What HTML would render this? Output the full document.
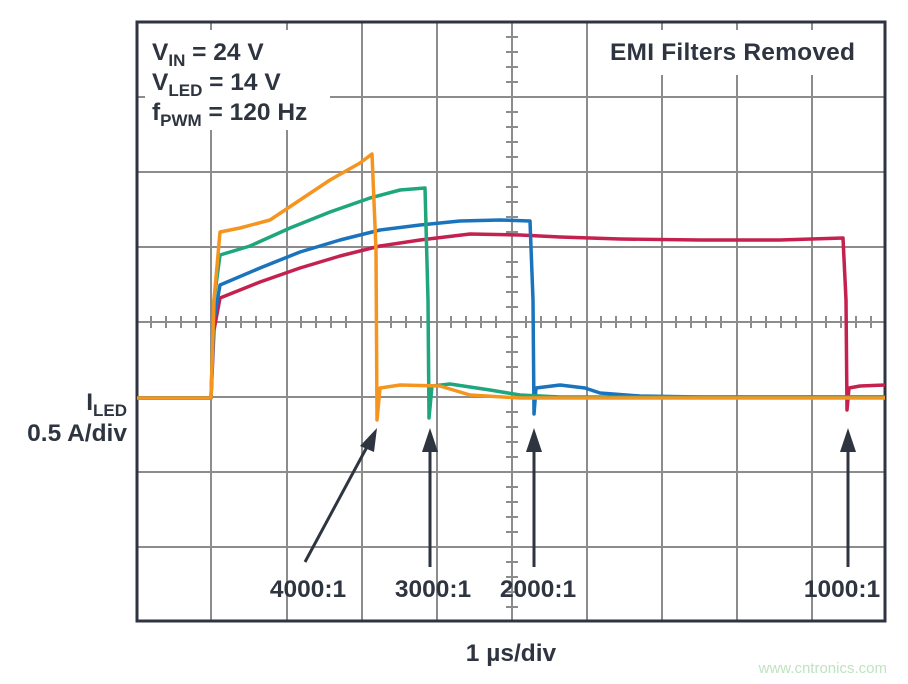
<!DOCTYPE html>
<html><head><meta charset="utf-8"><style>
body{margin:0;background:#fff;}
svg{display:block;font-family:"Liberation Sans",sans-serif;font-weight:bold;}
</style></head><body>
<svg width="908" height="684" viewBox="0 0 908 684" xmlns="http://www.w3.org/2000/svg">
<rect width="908" height="684" fill="#fff"/>
<g stroke="#8c8c8c" stroke-width="2" fill="none">
<path d="M211 22V622M287 22V622M362 22V622M437 22V622M587 22V622M662 22V622M737 22V622M812 22V622"/>
<path d="M136 97H886M136 172H886M136 247H886M136 397H886M136 472H886M136 547H886"/>
<path d="M512 22V622M136 322H886"/>
</g>
<g stroke="#8c8c8c" stroke-width="2">
<path d="M151 316v12M166 316v12M181 316v12M196 316v12M226 316v12M241 316v12M256 316v12M271 316v12M301 316v12M316 316v12M331 316v12M346 316v12M376 316v12M391 316v12M406 316v12M421 316v12M451 316v12M466 316v12M481 316v12M496 316v12M526 316v12M541 316v12M556 316v12M571 316v12M601 316v12M616 316v12M631 316v12M646 316v12M676 316v12M691 316v12M706 316v12M721 316v12M751 316v12M766 316v12M781 316v12M796 316v12M826 316v12M841 316v12M856 316v12M871 316v12"/>
<path d="M506 37h12M506 52h12M506 67h12M506 82h12M506 112h12M506 127h12M506 142h12M506 157h12M506 187h12M506 202h12M506 217h12M506 232h12M506 262h12M506 277h12M506 292h12M506 307h12M506 337h12M506 352h12M506 367h12M506 382h12M506 412h12M506 427h12M506 442h12M506 457h12M506 487h12M506 502h12M506 517h12M506 532h12M506 562h12M506 577h12M506 592h12M506 607h12"/>
</g>
<rect x="137" y="22" width="748" height="599" fill="none" stroke="#2e3540" stroke-width="3"/>
<rect x="145" y="30" width="185" height="100" fill="#fff"/>
<rect x="600" y="30" width="270" height="45" fill="#fff"/>
<g fill="none" stroke-width="3.5" stroke-linejoin="round">
<polyline stroke="#c4214f" points="137,398 211,398 214,330 220,298 260,282 300,268 340,256 380,246 420,240 470,234 520,235 560,237 620,239 700,240 780,240 843,238 846,300 847,410 849,388 860,386 885,385"/>
<polyline stroke="#1a74bd" points="137,398 211,398 214,320 220,285 260,268 300,252 340,240 380,230 420,225 460,221 500,220 530,221 533,300 534,414 536,388 560,385 585,388 600,393 640,396 700,397 885,397"/>
<polyline stroke="#1ea67c" points="137,398 211,398 214,300 220,255 250,246 290,228 330,212 370,198 400,190 425,188 428,300 429,418 432,386 450,384 490,390 520,395 560,397 885,397"/>
<polyline stroke="#f5951f" points="137,398 211,398 214,300 220,232 240,228 270,220 300,200 330,180 360,163 372,154 376,250 377,420 380,388 400,385 440,386 470,395 520,398 885,398"/>
</g>
<g fill="#2e3540" font-size="24.5">
<text x="152" y="60">V<tspan font-size="17" dy="6">IN</tspan><tspan dy="-6"> = 24 V</tspan></text>
<text x="152" y="90">V<tspan font-size="17" dy="6">LED</tspan><tspan dy="-6"> = 14 V</tspan></text>
<text x="152" y="120">f<tspan font-size="17" dy="6">PWM</tspan><tspan dy="-6"> = 120 Hz</tspan></text>
<text x="855" y="60" text-anchor="end" textLength="245">EMI Filters Removed</text>
<text x="127" y="410" text-anchor="end">I<tspan font-size="17" dy="6">LED</tspan></text>
<text x="127" y="441" text-anchor="end">0.5 A/div</text>
<text x="511" y="661" text-anchor="middle">1 µs/div</text>
<text x="308" y="597" text-anchor="middle">4000:1</text>
<text x="433" y="597" text-anchor="middle">3000:1</text>
<text x="538" y="597" text-anchor="middle">2000:1</text>
<text x="842" y="597" text-anchor="middle">1000:1</text>
</g>
<g stroke="#2e3540" stroke-width="3" fill="#2e3540">
<line x1="305" y1="562" x2="368" y2="445"/>
<polygon points="377,428 360,446 374,452" stroke="none"/>
<line x1="430" y1="567" x2="430" y2="450"/><polygon points="430,428 422,452 438,452" stroke="none"/>
<line x1="534" y1="567" x2="534" y2="450"/><polygon points="534,428 526,452 542,452" stroke="none"/>
<line x1="848" y1="567" x2="848" y2="450"/><polygon points="848,428 840,452 856,452" stroke="none"/>
</g>
<text x="887" y="673" text-anchor="end" font-size="15" font-weight="normal" fill="#bfe3c0">www.cntronics.com</text>
</svg>
</body></html>
